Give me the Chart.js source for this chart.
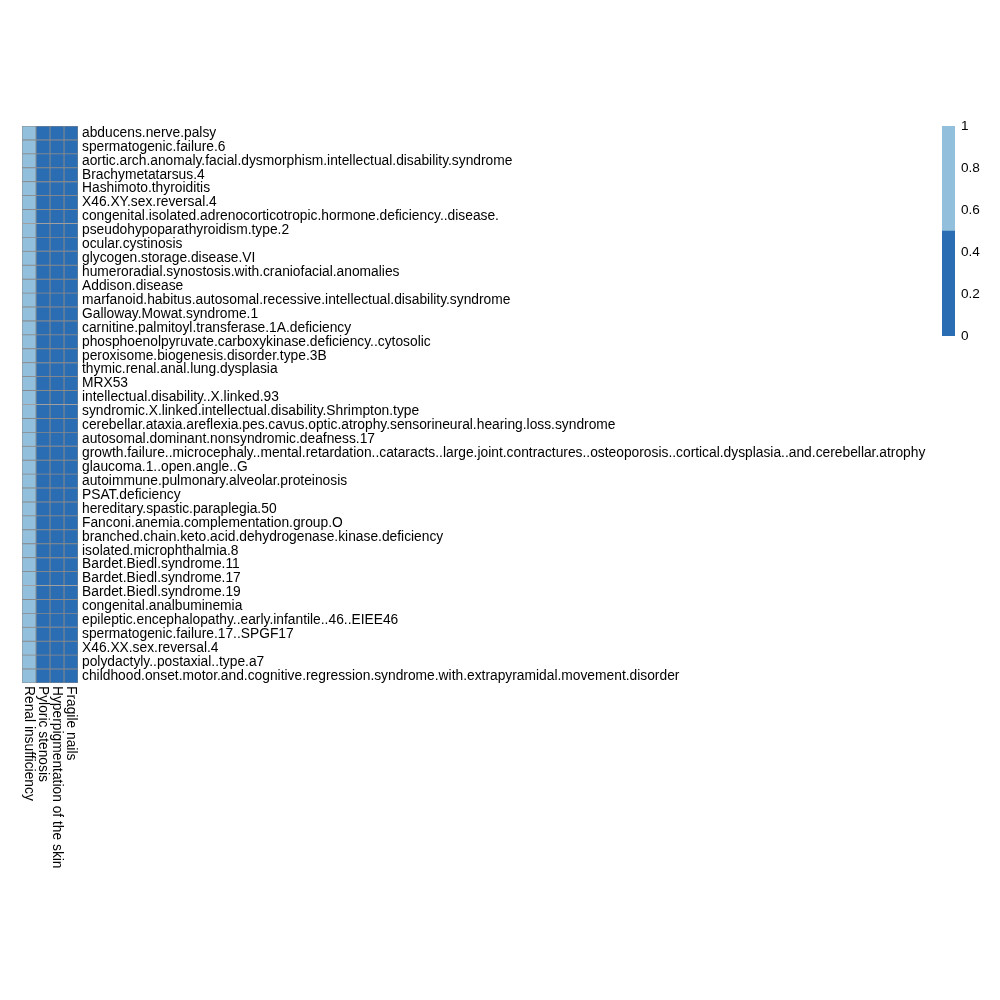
<!DOCTYPE html>
<html>
<head>
<meta charset="utf-8">
<script src="https://cdn.jsdelivr.net/npm/chart.js@4/dist/chart.umd.min.js"></script>
<style>
  html, body { margin: 0; padding: 0; background: #fff; }
  #wrap { position: relative; width: 1000px; height: 1000px; }
  #main { position: absolute; left: 0; top: 0; }
  #leg { position: absolute; left: 900px; top: 100px; }
</style>
</head>
<body>
<div id="wrap">
  <canvas id="main" width="1000" height="1000"></canvas>
  <canvas id="leg" width="100" height="260"></canvas>
</div>
<script>
const diseases = [
  "abducens.nerve.palsy",
  "spermatogenic.failure.6",
  "aortic.arch.anomaly.facial.dysmorphism.intellectual.disability.syndrome",
  "Brachymetatarsus.4",
  "Hashimoto.thyroiditis",
  "X46.XY.sex.reversal.4",
  "congenital.isolated.adrenocorticotropic.hormone.deficiency..disease.",
  "pseudohypoparathyroidism.type.2",
  "ocular.cystinosis",
  "glycogen.storage.disease.VI",
  "humeroradial.synostosis.with.craniofacial.anomalies",
  "Addison.disease",
  "marfanoid.habitus.autosomal.recessive.intellectual.disability.syndrome",
  "Galloway.Mowat.syndrome.1",
  "carnitine.palmitoyl.transferase.1A.deficiency",
  "phosphoenolpyruvate.carboxykinase.deficiency..cytosolic",
  "peroxisome.biogenesis.disorder.type.3B",
  "thymic.renal.anal.lung.dysplasia",
  "MRX53",
  "intellectual.disability..X.linked.93",
  "syndromic.X.linked.intellectual.disability.Shrimpton.type",
  "cerebellar.ataxia.areflexia.pes.cavus.optic.atrophy.sensorineural.hearing.loss.syndrome",
  "autosomal.dominant.nonsyndromic.deafness.17",
  "growth.failure..microcephaly..mental.retardation..cataracts..large.joint.contractures..osteoporosis..cortical.dysplasia..and.cerebellar.atrophy",
  "glaucoma.1..open.angle..G",
  "autoimmune.pulmonary.alveolar.proteinosis",
  "PSAT.deficiency",
  "hereditary.spastic.paraplegia.50",
  "Fanconi.anemia.complementation.group.O",
  "branched.chain.keto.acid.dehydrogenase.kinase.deficiency",
  "isolated.microphthalmia.8",
  "Bardet.Biedl.syndrome.11",
  "Bardet.Biedl.syndrome.17",
  "Bardet.Biedl.syndrome.19",
  "congenital.analbuminemia",
  "epileptic.encephalopathy..early.infantile..46..EIEE46",
  "spermatogenic.failure.17..SPGF17",
  "X46.XX.sex.reversal.4",
  "polydactyly..postaxial..type.a7",
  "childhood.onset.motor.and.cognitive.regression.syndrome.with.extrapyramidal.movement.disorder"
];

const phenotypes = ["Renal insufficiency", "Pyloric stenosis", "Hyperpigmentation of the skin", "Fragile nails"];

const renalInsufficiency = [1,1,1,1,1,1,1,1,1,1,1,1,1,1,1,1,1,1,1,1,1,1,1,1,1,1,1,1,1,1,1,1,1,1,1,1,1,1,1,1];
const pyloricStenosis    = [0,0,0,0,0,0,0,0,0,0,0,0,0,0,0,0,0,0,0,0,0,0,0,0,0,0,0,0,0,0,0,0,0,0,0,0,0,0,0,0];
const hyperpigmentation  = [0,0,0,0,0,0,0,0,0,0,0,0,0,0,0,0,0,0,0,0,0,0,0,0,0,0,0,0,0,0,0,0,0,0,0,0,0,0,0,0];
const fragileNails       = [0,0,0,0,0,0,0,0,0,0,0,0,0,0,0,0,0,0,0,0,0,0,0,0,0,0,0,0,0,0,0,0,0,0,0,0,0,0,0,0];

const legendTicks = [0, 0.2, 0.4, 0.6, 0.8, 1];

const LIGHT = '#92bfdc';
const DARK = '#2b6db3';
const GRIDC = '#8a8a8a';
const FONT = "'Liberation Sans', Arial, Helvetica, sans-serif";
const FS = 13.8;
const FS_COL = 13.8;

Chart.defaults.color = '#000';
Chart.defaults.font.family = FONT;
Chart.defaults.font.size = FS;

const columns = [renalInsufficiency, pyloricStenosis, hyperpigmentation, fragileNails];
const colorFor = v => (v >= 0.5 ? LIGHT : DARK);

const datasets = columns.map((vals, c) => ({
  label: phenotypes[c],
  data: vals.map(() => [c, c + 1]),
  backgroundColor: vals.map(colorFor),
  borderColor: GRIDC,
  borderWidth: 0.8,
  borderSkipped: false,
  grouped: false,
  barPercentage: 1,
  categoryPercentage: 1
}));

const colLabelPlugin = {
  id: 'colLabels',
  afterDraw(chart) {
    const ctx = chart.ctx;
    const xs = chart.scales.x;
    const bottom = chart.chartArea.bottom;
    ctx.save();
    ctx.fillStyle = '#000';
    ctx.font = FS_COL + 'px ' + FONT;
    ctx.textAlign = 'left';
    ctx.textBaseline = 'middle';
    phenotypes.forEach((p, c) => {
      const x = xs.getPixelForValue(c + 0.5);
      ctx.save();
      ctx.translate(x, bottom + 3);
      ctx.rotate(Math.PI / 2);
      ctx.fillText(p, 0, 0);
      ctx.restore();
    });
    ctx.restore();
  }
};

new Chart(document.getElementById('main'), {
  type: 'bar',
  data: { labels: diseases, datasets },
  options: {
    indexAxis: 'y',
    responsive: false,
    animation: false,
    layout: { padding: { left: 22, top: 126, right: 0, bottom: 317 } },
    plugins: { legend: { display: false }, tooltip: { enabled: false } },
    scales: {
      x: { type: 'linear', min: 0, max: 4, display: false },
      y: {
        type: 'category',
        position: 'right',
        grid: { display: false, drawTicks: false },
        border: { display: false },
        ticks: { autoSkip: false, padding: 4, color: '#000', font: { size: FS } },
        afterFit(scale) { scale.width = 922; }
      }
    }
  },
  plugins: [colLabelPlugin]
});

new Chart(document.getElementById('leg'), {
  type: 'bar',
  data: {
    labels: [''],
    datasets: [
      { data: [[0, 0.5]], backgroundColor: DARK, borderWidth: 0, grouped: false, barPercentage: 1, categoryPercentage: 1 },
      { data: [[0.5, 1]], backgroundColor: LIGHT, borderWidth: 0, grouped: false, barPercentage: 1, categoryPercentage: 1 }
    ]
  },
  options: {
    responsive: false,
    animation: false,
    layout: { padding: { left: 42, top: 26, right: 0, bottom: 24 } },
    plugins: { legend: { display: false }, tooltip: { enabled: false } },
    scales: {
      x: { display: false },
      y: {
        type: 'linear',
        position: 'right',
        min: 0, max: 1,
        afterBuildTicks(scale) { scale.ticks = legendTicks.map(v => ({ value: v })); },
        grid: { display: false, drawTicks: false },
        border: { display: false },
        ticks: { padding: 6, color: '#000', font: { size: 13.6 }, callback: v => String(v) },
        afterFit(scale) { scale.width = 45; }
      }
    }
  }
});
</script>
</body>
</html>
